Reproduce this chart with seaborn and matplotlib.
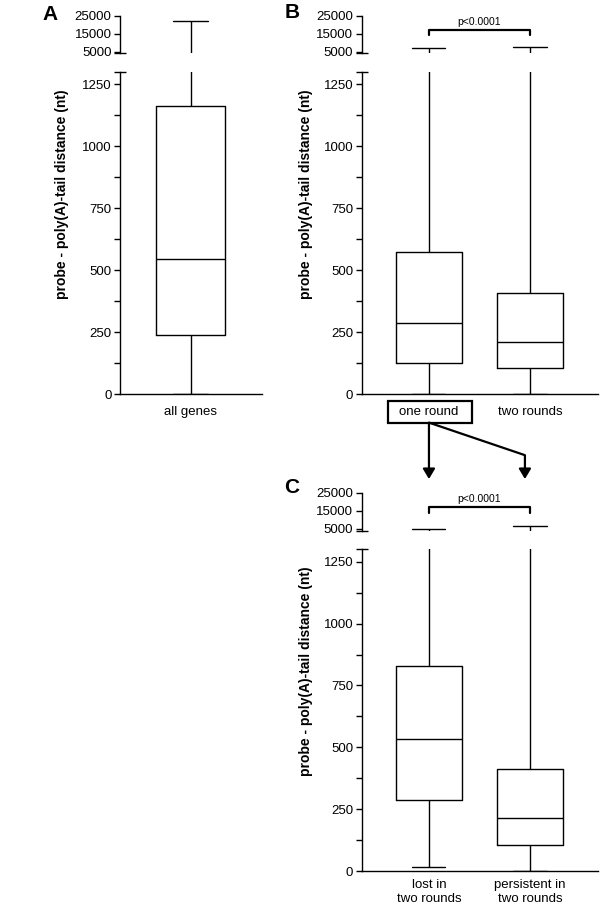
import numpy as np
import pandas as pd
import matplotlib
matplotlib.use("Agg")
import matplotlib.pyplot as plt
import matplotlib.transforms as mtransforms
from matplotlib.patches import Rectangle
import seaborn as sns

sns.set_style("ticks")
plt.rcParams['font.family'] = ['Liberation Sans', 'DejaVu Sans']
plt.rcParams['axes.linewidth'] = 1.0
plt.rcParams['ytick.major.width'] = 1.0
plt.rcParams['ytick.minor.width'] = 1.0
for key in ['text.color', 'axes.labelcolor', 'xtick.color', 'ytick.color', 'axes.edgecolor']:
    plt.rcParams[key] = 'black'

# box summaries: min, q1, median, q3, max
groups_a = ["all genes"]
min_a = [0]
q1_a = [240]
med_a = [547]
q3_a = [1162]
max_a = [21900]

groups_b = ["one round", "two rounds"]
min_b = [0, 0]
q1_b = [126, 104]
med_b = [287, 210]
q3_b = [575, 409]
max_b = [7200, 7800]

groups_c = ["lost in\ntwo rounds", "persistent in\ntwo rounds"]
min_c = [17, 0]
q1_c = [289, 107]
med_c = [535, 213]
q3_c = [828, 412]
max_c = [4900, 6800]

p_label = "p<0.0001"
ylabel = "probe - poly(A)-tail distance (nt)"
low_ticks = [0, 250, 500, 750, 1000, 1250]
low_minor = [125, 375, 625, 875, 1125]
high_ticks = [5000, 15000, 25000]


def to_frame(groups, mins, q1s, meds, q3s, maxs):
    # five points per group -> quartiles land exactly on q1/median/q3
    rows = []
    for g, a, b, c, d, e in zip(groups, mins, q1s, meds, q3s, maxs):
        for v in (a, b, c, d, e):
            rows.append({"group": g, "dist": v})
    return pd.DataFrame(rows)


fig = plt.figure(figsize=(6, 9.08), dpi=100)


def panel(df, groups, rect_lo, rect_hi, xlim, width, letter, letter_xy, label_x,
          xpad=8.5, pval=False):
    ax_lo = fig.add_axes(rect_lo)
    ax_hi = fig.add_axes(rect_hi)
    for ax in (ax_lo, ax_hi):
        sns.boxplot(data=df, x="group", y="dist", order=groups, ax=ax, fill=False,
                    color="black", linewidth=1.0, width=width, whis=(0, 100),
                    showfliers=False)
        ax.set_xlim(xlim)
        ax.set_xlabel("")
        ax.set_ylabel("")
        sns.despine(ax=ax)
        ax.tick_params(axis='y', which='both', length=4, pad=2, labelsize=9.5)

    ax_lo.set_ylim(0, 1300)
    ax_lo.set_yticks(low_ticks)
    ax_lo.set_yticks(low_minor, minor=True)
    ax_lo.tick_params(axis='x', length=0, pad=xpad, labelsize=9.5)
    ax_lo.set_ylabel(ylabel, fontsize=10, fontweight='bold', va='center')
    ax_lo.yaxis.set_label_coords(label_x, 0.62)

    ax_hi.set_ylim(4100, 25100)
    ax_hi.set_yticks(high_ticks)
    ax_hi.spines['bottom'].set_visible(False)
    ax_hi.tick_params(axis='x', length=0, labelbottom=False)

    # axis break markers
    ax_hi.plot(0, 0, marker='_', ms=8, mew=1.0, color='black',
               transform=ax_hi.transAxes, clip_on=False)
    ax_lo.plot(0, 1, marker='_', ms=8, mew=1.0, color='black',
               transform=ax_lo.transAxes, clip_on=False)

    if pval:
        ax_hi.plot([0, 0, 1, 1], [14000, 17000, 17000, 14000], color='black',
                   lw=1.6, clip_on=False)
        ax_hi.text(0.5, 21700, p_label, ha='center', va='center', fontsize=7.5)

    fig.text(letter_xy[0], letter_xy[1], letter, fontsize=15, fontweight='bold',
             ha='center', va='center')
    return ax_lo, ax_hi


df_a = to_frame(groups_a, min_a, q1_a, med_a, q3_a, max_a)
df_b = to_frame(groups_b, min_b, q1_b, med_b, q3_b, max_b)
df_c = to_frame(groups_c, min_c, q1_c, med_c, q3_c, max_c)

panel(df_a, groups_a, [0.2, 0.5658, 0.2367, 0.355], [0.2, 0.9413, 0.2367, 0.0416],
      (-0.70, 0.71), 0.69, "A", (50 / 600, 1 - 14 / 908), -0.408)
b_lo, b_hi = panel(df_b, groups_b, [0.6028, 0.5658, 0.3938, 0.355],
                   [0.6028, 0.9413, 0.3938, 0.0416],
                   (-0.666, 1.673), 0.655, "B", (292 / 600, 1 - 13 / 908), -0.236,
                   pval=True)
panel(df_c, groups_c, [0.6028, 0.0407, 0.3938, 0.3543], [0.6028, 0.4157, 0.3938, 0.0416],
      (-0.666, 1.673), 0.655, "C", (292 / 600, 1 - 488 / 908), -0.236, xpad=6,
      pval=True)

# box around "one round" and the arrows down to panel C
trans = mtransforms.blended_transform_factory(b_lo.transData, b_lo.transAxes)
b_lo.add_patch(Rectangle((-0.41, -0.088), 0.84, 0.068, transform=trans, fill=False,
                         lw=1.6, ec='black', clip_on=False))
arrow = dict(arrowstyle='-|>,head_length=0.6,head_width=0.36', lw=1.6, color='black',
             shrinkA=0, shrinkB=0)
b_lo.annotate("", xy=(0, -0.263), xytext=(0, -0.088), xycoords=trans, textcoords=trans,
              arrowprops=arrow, annotation_clip=False)
b_lo.plot([0, 0.95], [-0.088, -0.189], color='black', lw=1.6, transform=trans,
          clip_on=False, solid_capstyle='butt')
b_lo.annotate("", xy=(0.95, -0.263), xytext=(0.95, -0.189), xycoords=trans,
              textcoords=trans, arrowprops=arrow, annotation_clip=False)

fig.savefig("out.png", dpi=100)
